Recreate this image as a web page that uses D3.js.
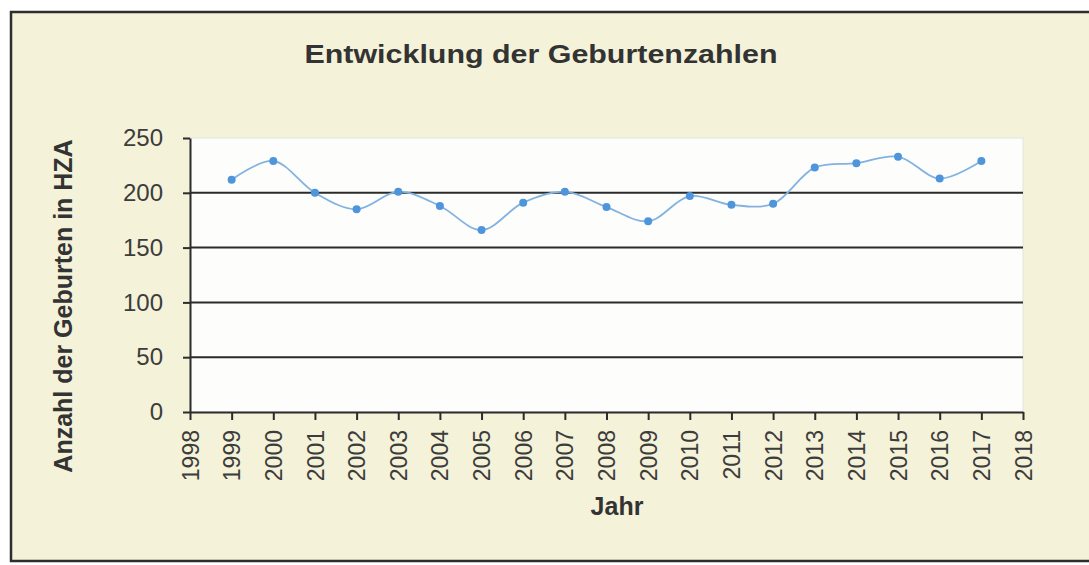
<!DOCTYPE html>
<html>
<head>
<meta charset="utf-8">
<script src="https://cdn.jsdelivr.net/npm/d3@7"></script>
<style>
  body { margin: 0; background: #fff; }
  text { font-family: "Liberation Sans", Arial, sans-serif; }
</style>
</head>
<body>
<script>
var width = 1089,
    height = 565;

// values
var years = [1999, 2000, 2001, 2002, 2003, 2004, 2005, 2006, 2007, 2008,
             2009, 2010, 2011, 2012, 2013, 2014, 2015, 2016, 2017];
var births = [212, 229, 200, 185, 201, 188, 166, 191, 201, 187,
              174, 197, 189, 190, 223, 227, 233, 213, 229];
var xTicks = d3.range(1998, 2019);
var yTicks = [0, 50, 100, 150, 200, 250];
var gridValues = [50, 100, 150, 200];

var title = "Entwicklung der Geburtenzahlen",
    xLabel = "Jahr",
    yLabel = "Anzahl der Geburten in HZA";

var plot = { left: 190, right: 1023, top: 138, bottom: 412 };

var x = d3.scaleLinear().domain([1998, 2018]).range([plot.left, plot.right]);
var y = d3.scaleLinear().domain([0, 250]).range([plot.bottom, plot.top]);

var svg = d3.select("body").append("svg")
    .attr("width", width)
    .attr("height", height);

// chart frame
svg.append("rect")
    .attr("x", 11).attr("y", 12)
    .attr("width", width + 20).attr("height", 549)
    .attr("fill", "#f4f2d9")
    .attr("stroke", "#2e2e2e")
    .attr("stroke-width", 2.5);

// plot area
svg.append("rect")
    .attr("x", plot.left).attr("y", plot.top)
    .attr("width", plot.right - plot.left)
    .attr("height", plot.bottom - plot.top)
    .attr("fill", "#fdfdfc")
    .attr("stroke", "#e4e4e0")
    .attr("stroke-width", 1);

svg.append("g").selectAll("line")
    .data(gridValues)
    .join("line")
    .attr("x1", plot.left).attr("x2", plot.right)
    .attr("y1", d => y(d)).attr("y2", d => y(d))
    .attr("stroke", "#2b2b2b")
    .attr("stroke-width", 2);

// axes
var yAxis = svg.append("g")
    .attr("transform", "translate(" + plot.left + ",0)")
    .call(d3.axisLeft(y).tickValues(yTicks).tickSize(7).tickPadding(20).tickSizeOuter(0));

var xAxis = svg.append("g")
    .attr("transform", "translate(0," + plot.bottom + ")")
    .call(d3.axisBottom(x).tickValues(xTicks).tickFormat(d3.format("d")).tickSize(8).tickSizeOuter(0));

[yAxis, xAxis].forEach(function(g) {
    g.select(".domain").attr("stroke", "#2b2b2b").attr("stroke-width", 2);
    g.selectAll(".tick line").attr("stroke", "#2b2b2b").attr("stroke-width", 2);
    g.selectAll("text").attr("fill", "#3c3c3c").attr("font-family", "Liberation Sans, Arial, sans-serif");
});

yAxis.selectAll("text").attr("font-size", 24);

xAxis.selectAll("text")
    .attr("font-size", 23)
    .attr("transform", "rotate(-90)")
    .attr("x", -18)
    .attr("y", 0)
    .attr("dy", "0.35em")
    .attr("text-anchor", "end");

// series
var line = d3.line()
    .x((d, i) => x(years[i]))
    .y(d => y(d))
    .curve(d3.curveCatmullRom.alpha(0.5));

svg.append("path")
    .datum(births)
    .attr("d", line)
    .attr("fill", "none")
    .attr("stroke", "#82b3e0")
    .attr("stroke-width", 1.8);

svg.append("g").selectAll("circle")
    .data(births)
    .join("circle")
    .attr("cx", (d, i) => x(years[i]))
    .attr("cy", d => y(d))
    .attr("r", 4)
    .attr("fill", "#4f95dc");

// texts
svg.append("text")
    .attr("x", 541).attr("y", 63)
    .attr("text-anchor", "middle")
    .attr("font-size", 25)
    .attr("font-weight", "bold")
    .attr("fill", "#333")
    .attr("textLength", 473)
    .attr("lengthAdjust", "spacingAndGlyphs")
    .text(title);

svg.append("text")
    .attr("x", 617).attr("y", 515)
    .attr("text-anchor", "middle")
    .attr("font-size", 25)
    .attr("font-weight", "bold")
    .attr("fill", "#333")
    .text(xLabel);

svg.append("text")
    .attr("transform", "translate(72,306) rotate(-90)")
    .attr("text-anchor", "middle")
    .attr("font-size", 25)
    .attr("font-weight", "bold")
    .attr("fill", "#333")
    .text(yLabel);
</script>
</body>
</html>
